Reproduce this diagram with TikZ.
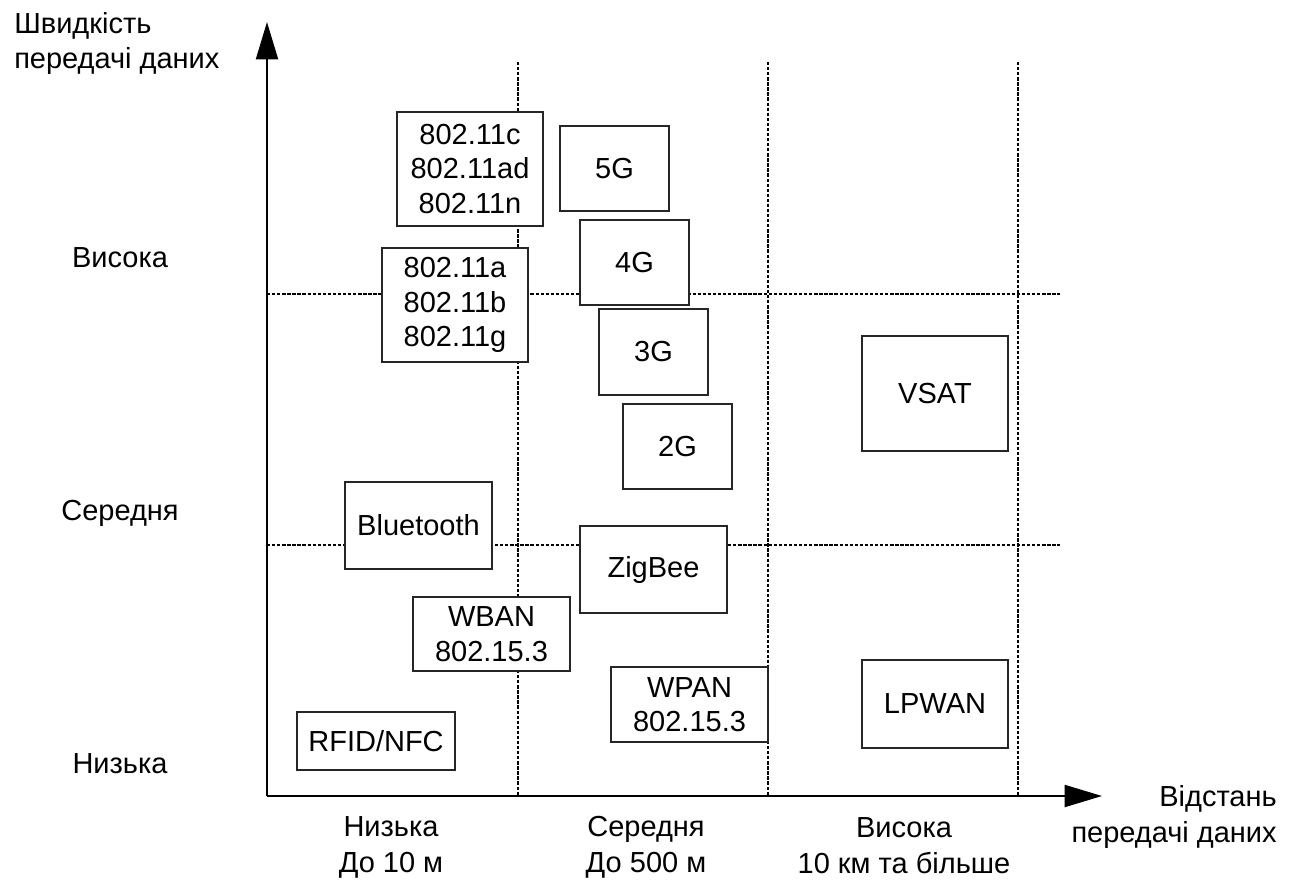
\documentclass[tikz,border=0pt]{standalone}
\usepackage{fontspec}
\setmainfont{Liberation Sans}
\usetikzlibrary{arrows.meta}
\tikzset{
  lbl/.style={font=\fontsize{21.75}{26.5}\selectfont, inner sep=0pt, align=center},
  box/.style={draw=black!85, line width=1.1pt, fill=white, inner sep=0pt,
    font=\fontsize{21.75}{26}\selectfont, align=center},
  wh/.style 2 args={minimum width=#1*0.75pt, minimum height=#2*0.75pt},
  grid/.style={line width=1.5pt, dash pattern=on 2.5pt off 1.3pt, black},
  axis/.style={line width=1.5pt, -{Triangle[length=28pt,width=16.5pt]}}
}
\begin{document}
\begin{tikzpicture}[x=0.75pt,y=-0.75pt]
\useasboundingbox (0,0) rectangle (1294,881);
% grid coordinates
\coordinate (v1t) at (518,62);  \coordinate (v1b) at (518,796);
\coordinate (v2t) at (768,62);  \coordinate (v2b) at (768,796);
\coordinate (v3t) at (1018,62); \coordinate (v3b) at (1018,796);
\coordinate (h1l) at (267,294); \coordinate (h1r) at (1060,294);
\coordinate (h2l) at (267,545); \coordinate (h2r) at (1060,545);
\draw[grid] (v1t) -- (v1b);
\draw[grid] (v2t) -- (v2b);
\draw[grid] (v3t) -- (v3b);
\draw[grid] (h1l) -- (h1r);
\draw[grid] (h2l) -- (h2r);
% boxes
\node[box, wh={146}{114}] (w1) at (470,169) {802.11c\\802.11ad\\802.11n};
\node[box, wh={109}{85}] (g5) at (614.5,168.5) {5G};
\node[box, wh={146}{114}] (w2) at (455,305) {802.11a\\802.11b\\802.11g};
\node[box, wh={109}{85}] (g4) at (634.5,262.5) {4G};
\node[box, wh={109}{86}] (g3) at (653.5,352) {3G};
\node[box, wh={109}{85}] (g2) at (677.5,446.5) {2G};
\node[box, wh={147}{87}] (bt) at (418.5,525.5) {Bluetooth};
\node[box, wh={147}{87}] (zb) at (653.5,569.5) {ZigBee};
\node[box, wh={157}{74}] (wban) at (491.5,634) {WBAN\\802.15.3};
\node[box, wh={157}{75}] (wpan) at (689.5,704.5) {WPAN\\802.15.3};
\node[box, wh={158}{58}] (rfid) at (376,741) {RFID/NFC};
\node[box, wh={146}{115}] (vsat) at (935,393.5) {VSAT};
\node[box, wh={146}{88}] (lpwan) at (935,704) {LPWAN};
% axes
\coordinate (O) at (267,796);
\coordinate (ytip) at (267,22);
\coordinate (xtip) at (1102,796);
\draw[axis] (O) -- (ytip);
\draw[axis] (O) -- (xtip);
% axis titles (base anchor = baseline of last line)
\node[lbl, anchor=base west, align=left] (ytitle) at (14,69) {Швидкість\\передачі даних};
\node[lbl, anchor=base east, align=right] (xtitle) at (1277,842) {Відстань\\передачі даних};
% y labels
\node[lbl, anchor=base] (yhigh) at (120,267) {Висока};
\node[lbl, anchor=base] (ymid) at (120,520) {Середня};
\node[lbl, anchor=base] (ylow) at (120,773) {Низька};
% x labels
\node[lbl, anchor=base] (xlow) at (391,872) {Низька\\До 10 м};
\node[lbl, anchor=base] (xmid) at (646,872) {Середня\\До 500 м};
\node[lbl, anchor=base] (xhigh) at (904,873) {Висока\\10 км та більше};
\end{tikzpicture}
\end{document}
